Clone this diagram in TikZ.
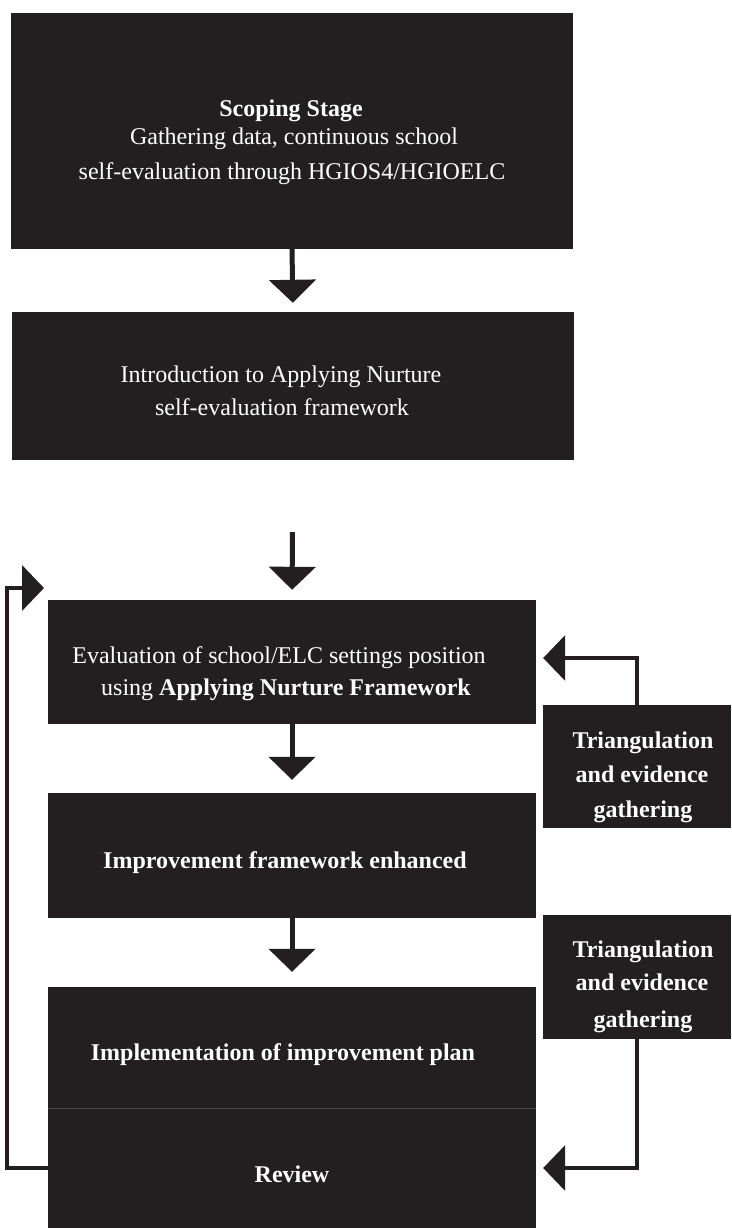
\documentclass[tikz,border=0pt]{standalone}
\usepackage{fontspec}
\setmainfont{Liberation Serif}
\usetikzlibrary{arrows.meta}
\definecolor{boxc}{HTML}{231F20}
\definecolor{sepc}{HTML}{4A4A4A}
\begin{document}
\begin{tikzpicture}[x=1pt,y=-1pt,
  box/.style={fill=boxc,draw=none,inner sep=0pt,anchor=center},
  txt/.style={text=white,anchor=base,inner sep=0pt,font=\fontsize{24}{34}\selectfont},
  btxt/.style={txt,font=\fontsize{24}{34}\selectfont\bfseries},
  flow/.style={draw=boxc,line width=5pt,-{Triangle[length=23pt,width=46pt]}},
  conn/.style={draw=boxc,line width=4pt,-{Triangle[length=22pt,width=45pt]}}]
\useasboundingbox (0,0) rectangle (731,1228);
% boxes
\node[box,minimum width=562pt,minimum height=236pt] (b1) at (292,131) {};
\node[box,minimum width=562pt,minimum height=148pt] (b2) at (293,386) {};
\node[box,minimum width=488pt,minimum height=124pt] (b3) at (292,662) {};
\node[box,minimum width=488pt,minimum height=125pt] (b4) at (292,855.5) {};
\node[box,minimum width=488pt,minimum height=121pt] (b5) at (292,1047.5) {};
\node[box,minimum width=488pt,minimum height=120pt] (b6) at (292,1168) {};
\node[box,minimum width=188pt,minimum height=123pt] (t1) at (637,766.5) {};
\node[box,minimum width=188pt,minimum height=124pt] (t2) at (637,977) {};
\draw[sepc,line width=1pt] (b5.south west) -- (b5.south east);
% texts
\node[btxt] (l1a) at (291,117) {Scoping Stage};
\node[txt] (l1b) at (294,144) {Gathering data, continuous school};
\node[txt] (l1c) at (292,179) {self-evaluation through HGIOS4/HGIOELC};
\node[txt] (l2a) at (281,382) {Introduction to Applying Nurture};
\node[txt] (l2b) at (282,415) {self-evaluation framework};
\node[txt] (l3a) at (279,663) {Evaluation of school/ELC settings position};
\node[txt] (l3b) at (286,695) {using \textbf{Applying Nurture Framework}};
\node[btxt] (l4) at (285,868) {Improvement framework enhanced};
\node[btxt] (l5) at (283,1060) {Implementation of improvement plan};
\node[btxt] (l6) at (292,1182) {Review};
\node[btxt] (t1a) at (643,748) {Triangulation};
\node[btxt] (t1b) at (642,782) {and evidence};
\node[btxt] (t1c) at (643,817) {gathering};
\node[btxt] (t2a) at (643,957) {Triangulation};
\node[btxt] (t2b) at (642,990) {and evidence};
\node[btxt] (t2c) at (643,1027) {gathering};
% main arrows
\draw[flow,shorten >=9pt] (b1.south) -- (b2.north);
\draw[flow,shorten <=72pt,shorten >=10pt] (b2.south) -- (b3.north);
\draw[flow,shorten >=13pt] (b3.south) -- (b4.north);
\draw[flow,shorten >=15pt] (b4.south) -- (b5.north);
% feedback arrows
\draw[conn] (t1.north) |- ([shift={(7,-4)}]b3.east);
\draw[conn] (t2.south) |- ([xshift=7pt]b6.east);
\coordinate (lx) at (7,0);
\coordinate (lt) at (44,588);
\draw[conn] (b6.west) -- (b6.west -| lx) |- (lt);
\end{tikzpicture}
\end{document}
